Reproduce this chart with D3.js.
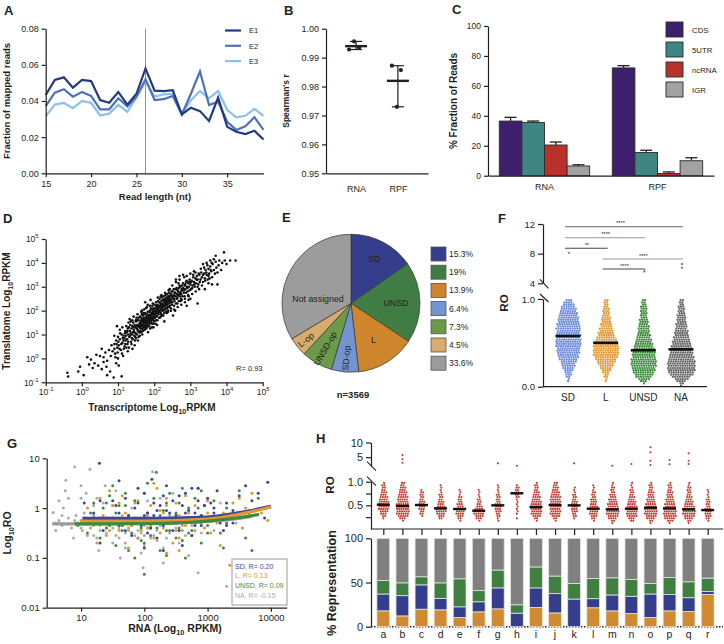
<!DOCTYPE html>
<html lang="en">
<head>
<meta charset="UTF-8">
<title>Ribosome profiling figure</title>
<script src="https://d3js.org/d3.v7.min.js"></script>
<style>
  body { margin: 0; background: #fff; }
  svg text { font-family: "Liberation Sans", Arial, Helvetica, sans-serif; fill: #231f20; }
</style>
</head>
<body>
<script>
// ---------- data ----------
// A: read length distributions
const readLengths = [15,16,17,18,19,20,21,22,23,24,25,26,27,28,29,30,31,32,33,34,35,36,37,38,39];
const lenE1 = [0.0433,0.0517,0.0531,0.0474,0.0517,0.0510,0.0405,0.0390,0.0450,0.0380,0.0440,0.0580,0.0457,0.0455,0.0460,0.0326,0.0363,0.0344,0.0290,0.0419,0.0257,0.0230,0.0217,0.0235,0.0187];
const lenE2 = [0.0372,0.0446,0.0465,0.0424,0.0450,0.0428,0.0354,0.0354,0.0415,0.0370,0.0424,0.0520,0.0405,0.0410,0.0428,0.0326,0.0440,0.0563,0.0378,0.0396,0.0285,0.0240,0.0260,0.0310,0.0240];
const lenE3 = [0.0315,0.0380,0.0390,0.0360,0.0400,0.0390,0.0320,0.0330,0.0380,0.0340,0.0420,0.0510,0.0425,0.0437,0.0440,0.0326,0.0405,0.0455,0.0415,0.0455,0.0350,0.0310,0.0318,0.0356,0.0318];
const aTicksY = [0, 0.02, 0.04, 0.06, 0.08];
const aTicksX = [15, 20, 25, 30, 35];

// B: replicate correlations
const bGroups = ["RNA", "RPF"];
const bRNA = [0.9956, 0.9928, 0.9935];
const bRPF = [0.9872, 0.9857, 0.9730];
const bTicks = [0.95, 0.96, 0.97, 0.98, 0.99, 1.00];

// C: fraction of reads
const cGroups = ["RNA", "RPF"];
const cParts = ["CDS", "5UTR", "ncRNA", "IGR"];
const cRNA = [36.5, 35.5, 20.5, 6.5];
const cRPF = [72, 15.5, 1.5, 10];
const cErrRNA = [2.5, 1.0, 2.0, 0.8];
const cErrRPF = [1.5, 1.5, 1.0, 2.0];
const cTicks = [0, 20, 40, 60, 80, 100];

// D: transcriptome vs translatome (log10 RPKM pairs)
const dPoints = [
[-0.38,-0.76],[-0.4,-0.6],[-0.1,-0.55],[-0.05,-0.35],[0.05,-0.7],[0.3,-0.4],[0.35,-0.2],[0.25,-0.05],[0.45,-0.3],[0.5,0.1],[0.55,-0.45],[0.6,-0.15],[0.65,0.25],[0.7,-0.1],[0.75,0.35],[0.78,-0.55],[0.7,-0.7],[0.6,0.05],[0.4,0.15],[0.2,-0.25],[0.55,0.4],[0.68,-0.35],[0.15,0.05],[0.8,0.1],
[0.85,0.3],[0.9,0.6],[0.92,0.2],[0.95,0.75],[0.98,0.45],[1.0,0.9],[1.02,0.55],[1.05,0.8],[1.08,0.35],[1.1,1.0],[1.12,0.65],[1.15,0.95],[1.18,0.5],[1.2,1.15],[0.88,-0.8],[0.95,-0.2],[1.1,-0.75],[1.0,0.0],[0.9,0.95],[1.05,1.2],[1.15,0.75],[0.82,0.55],[1.18,0.85],[1.12,1.3],[0.97,1.35],[1.2,0.6],
[1.22,0.95],[1.24,1.1],[1.25,0.8],[1.27,1.25],[1.28,1.0],[1.3,1.3],[1.31,0.9],[1.33,1.15],[1.34,1.4],[1.35,1.05],[1.37,1.25],[1.38,0.85],[1.4,1.35],[1.41,1.1],[1.42,1.5],[1.44,1.2],[1.45,0.95],[1.46,1.4],[1.48,1.3],[1.49,1.05],[1.5,1.55],[1.52,1.25],[1.53,1.4],[1.55,1.15],[1.56,1.6],[1.58,1.35],[1.59,1.45],[1.26,0.6],[1.36,0.7],[1.47,0.75],[1.57,0.9],[1.32,1.65],[1.43,1.75],[1.54,1.85],[1.29,1.5],[1.39,1.6],[1.51,1.7],[1.23,1.35],[1.46,0.55],[1.6,1.1],
[1.61,1.5],[1.62,1.35],[1.63,1.6],[1.64,1.45],[1.65,1.7],[1.66,1.25],[1.67,1.55],[1.68,1.4],[1.69,1.8],[1.7,1.6],[1.71,1.45],[1.72,1.7],[1.73,1.3],[1.74,1.55],[1.75,1.9],[1.76,1.65],[1.77,1.5],[1.78,1.75],[1.79,1.4],[1.8,1.85],[1.81,1.6],[1.82,1.7],[1.83,1.5],[1.84,1.95],[1.85,1.8],[1.86,1.65],[1.87,1.75],[1.88,1.55],[1.89,2.0],[1.9,1.85],[1.91,1.7],[1.92,1.9],[1.93,1.6],[1.94,2.05],[1.95,1.8],[1.96,1.95],[1.97,1.7],[1.98,2.1],[1.99,1.85],[2.0,1.75],[1.62,1.15],[1.7,1.2],[1.78,1.25],[1.86,1.35],[1.94,1.45],[1.64,1.95],[1.72,2.05],[1.8,2.15],[1.88,2.2],[1.96,2.3],[1.67,1.0],[1.83,1.1],[1.98,1.3],[1.75,2.35],[1.9,2.45],[1.66,1.85],[1.74,1.35],[1.82,1.95],[1.9,1.5],[1.98,1.6],
[2.01,2.0],[2.02,1.85],[2.03,2.1],[2.04,1.95],[2.05,2.2],[2.06,1.8],[2.07,2.05],[2.08,1.9],[2.09,2.25],[2.1,2.1],[2.11,1.95],[2.12,2.2],[2.13,2.0],[2.14,2.35],[2.15,2.15],[2.16,2.05],[2.17,2.3],[2.18,1.9],[2.19,2.25],[2.2,2.4],[2.21,2.1],[2.22,2.3],[2.23,2.0],[2.24,2.45],[2.25,2.25],[2.26,2.15],[2.27,2.4],[2.28,2.05],[2.29,2.5],[2.3,2.3],[2.31,2.2],[2.32,2.45],[2.33,2.1],[2.34,2.55],[2.35,2.35],[2.36,2.25],[2.37,2.5],[2.38,2.15],[2.39,2.6],[2.4,2.4],[2.05,1.6],[2.15,1.7],[2.25,1.8],[2.35,1.9],[2.1,2.55],[2.2,2.65],[2.3,2.75],[2.4,2.85],[2.08,1.4],[2.28,1.55],[2.18,2.6],[2.38,1.95],
[2.41,2.55],[2.42,2.3],[2.44,2.6],[2.45,2.45],[2.47,2.7],[2.48,2.35],[2.5,2.55],[2.51,2.8],[2.53,2.5],[2.54,2.65],[2.56,2.4],[2.57,2.75],[2.59,2.6],[2.6,2.9],[2.62,2.7],[2.63,2.5],[2.65,2.85],[2.66,2.65],[2.68,2.95],[2.69,2.75],[2.71,2.6],[2.72,3.0],[2.74,2.8],[2.75,2.7],[2.77,3.05],[2.78,2.85],[2.46,2.1],[2.55,2.2],[2.64,2.3],[2.73,2.4],[2.5,3.05],[2.6,3.2],[2.7,3.3],[2.43,2.9],[2.58,2.0],[2.67,3.15],[2.52,1.8],[2.76,2.45],
[2.8,2.95],[2.82,2.75],[2.84,3.05],[2.86,2.9],[2.88,3.2],[2.9,3.0],[2.92,2.8],[2.94,3.15],[2.96,3.0],[2.98,3.3],[3.0,3.1],[3.02,2.9],[3.04,3.25],[3.06,3.05],[3.08,3.4],[3.1,3.2],[3.12,3.0],[3.14,3.35],[3.16,3.15],[3.18,3.45],[3.2,3.3],[3.22,3.1],[3.25,3.5],[3.28,3.3],[2.85,2.5],[2.95,2.6],[3.05,2.7],[3.15,2.8],[2.9,3.45],[3.0,3.55],[3.1,3.65],[3.2,2.3],[2.83,3.4],[3.24,2.9],[3.3,3.6],
[3.32,3.4],[3.35,3.2],[3.38,3.55],[3.4,3.35],[3.42,3.7],[3.45,3.5],[3.48,3.3],[3.5,3.75],[3.52,3.55],[3.55,3.85],[3.58,3.65],[3.6,3.4],[3.62,3.95],[3.65,3.7],[3.68,3.55],[3.7,4.05],[3.72,3.8],[3.75,3.6],[3.78,3.9],[3.8,4.1],[3.35,3.95],[3.45,4.0],[3.55,4.1],[3.65,4.15],[3.4,2.9],[3.6,3.1],[3.85,3.7],[3.93,4.44],[3.95,4.1],[4.1,4.1],[4.25,4.1],[4.0,3.95],[3.88,4.0],[3.75,3.1],[3.5,3.15],[3.7,4.3],
[0.9,0.4],[0.93,0.05],[0.96,0.6],[0.99,0.25],[1.01,0.7],[1.04,0.4],[1.06,1.05],[1.09,0.6],[1.11,0.2],[1.13,0.85],[1.16,0.4],[1.19,1.05],[1.21,0.75],[1.23,0.45],[1.26,1.15],[1.28,0.7],[1.3,0.45],[1.33,0.95],[1.35,1.55],[1.37,0.6],[1.39,1.0],[1.41,0.8],[1.43,1.3],[1.45,1.1],[1.47,0.9],[1.49,1.6],[1.02,-0.3],[1.14,0.1],[1.27,0.3],[1.4,0.4],
[1.5,0.85],[1.51,1.35],[1.52,1.0],[1.53,1.6],[1.54,1.2],[1.55,0.75],[1.56,1.35],[1.57,1.7],[1.58,1.1],[1.59,1.3],[1.6,0.95],[1.61,1.75],[1.62,1.25],[1.63,1.45],[1.64,1.1],[1.65,1.55],[1.66,2.0],[1.67,1.35],[1.68,1.65],[1.69,1.15],[1.7,1.9],[1.71,1.3],[1.72,1.5],[1.73,1.85],[1.74,1.2],[1.75,1.6],[1.76,1.4],[1.77,2.1],[1.78,1.55],[1.79,1.3],[1.8,1.7],[1.81,1.45],[1.82,2.25],[1.83,1.8],[1.84,1.35],[1.85,1.6],[1.86,1.95],[1.87,1.45],[1.88,1.8],[1.89,1.25],[1.9,1.65],[1.91,2.1],[1.92,1.5],[1.93,1.8],[1.94,1.3],[1.95,2.2],[1.96,1.65],[1.97,1.9],[1.98,1.45],[1.99,2.0],
[2.0,1.55],[2.01,2.25],[2.02,1.7],[2.03,1.95],[2.04,1.45],[2.05,2.35],[2.06,1.95],[2.07,1.75],[2.08,2.15],[2.09,1.6],[2.1,2.0],[2.11,2.4],[2.12,1.85],[2.13,2.15],[2.14,1.7],[2.15,2.5],[2.16,1.95],[2.17,2.2],[2.18,1.75],[2.19,2.05],[2.2,1.85],[2.21,2.55],[2.22,2.15],[2.23,1.8],[2.24,2.25],[2.25,2.0],[2.26,2.6],[2.27,2.2],[2.28,1.9],[2.29,2.35],[2.3,2.05],[2.31,2.65],[2.32,2.25],[2.33,1.95],[2.34,2.4],[2.35,2.1],[2.36,2.7],[2.37,2.3],[2.38,2.0],[2.39,2.45],[2.4,2.15],[2.41,2.75],[2.42,2.5],[2.43,2.2],[2.44,2.35],[2.45,2.65],[2.46,2.0],[2.47,2.45],[2.48,2.8],[2.49,2.25],
[2.5,2.35],[2.52,2.6],[2.54,2.9],[2.56,2.5],[2.58,2.75],[2.6,2.3],[2.62,2.95],[2.64,2.55],[2.66,2.8],[2.68,2.4],[2.7,3.05],[2.72,2.7],[2.74,2.5],[2.76,2.9],[2.78,2.6],[2.8,3.15],[2.82,2.85],[2.84,2.6],[2.86,3.1],[2.88,2.75],[2.9,3.25],[2.92,2.95],[2.94,2.65],[2.96,3.2],[2.98,2.85],[2.55,2.05],[2.65,2.15],[2.75,2.25],[2.85,2.35],[2.95,2.45],[2.6,3.3],[2.7,3.45],[2.8,3.5],[2.9,2.2],[3.0,2.5],
[3.02,3.2],[3.05,2.95],[3.08,3.5],[3.11,3.1],[3.14,3.6],[3.17,3.3],[3.2,3.0],[3.23,3.55],[3.26,3.2],[3.29,3.75],[3.32,3.05],[3.35,3.5],[3.38,3.8],[3.41,3.25],[3.44,3.6],[3.47,3.9],[3.5,3.45],[3.53,3.35],[3.56,3.7],[3.59,4.0]
];
const dTicks = [-1, 0, 1, 2, 3, 4, 5];

// E: leader classes
const pieLabels = ["SD", "UNSD", "L", "SD-op", "UNSD-op", "L-op", "Not assigned"];
const pieValues = [15.3, 19, 13.9, 6.4, 7.3, 4.5, 33.6];
const pieLegend = ["15.3%", "19%", "13.9%", "6.4%", "7.3%", "4.5%", "33.6%"];

// F: RO per class, counts of genes per 0.025 RO bin (0..1)
const fCats = ["SD", "L", "UNSD", "NA"];
const fSD   = [0,0,1,1,2,3,3,4,5,6,6,7,8,9,9,10,10,10,11,11,11,11,10,11,10,10,11,10,10,9,9,9,8,8,7,7,6,5,4,3];
const fL    = [0,0,1,1,2,2,3,4,5,6,7,8,9,10,11,11,11,11,11,10,10,9,8,7,7,6,6,5,5,4,4,4,3,3,3,3,2,2,2,2];
const fUNSD = [0,1,3,5,7,8,9,10,10,11,11,11,11,10,10,10,9,9,8,8,7,7,6,6,5,5,5,5,4,4,4,3,3,3,3,3,3,2,2,2];
const fNA   = [1,2,4,6,8,10,11,12,12,12,12,12,11,11,10,10,9,9,9,8,8,7,7,6,6,6,5,5,5,4,4,4,4,3,3,3,3,2,2,2];
const fMeans = [0.578, 0.50, 0.415, 0.426];
const fOutliers = [[8.1], [], [5.6], [6.6, 6.1]];
const fSig = [["SD", "NA", "****"], ["SD", "UNSD", "****"], ["SD", "L", "**"], ["L", "NA", "****"], ["L", "UNSD", "****"]];

// G: RO vs RNA (log10 RPKM, log10 RO)
const gNA = [[0.56,-0.09],[0.6,-0.3],[0.65,-0.25],[0.7,-0.35],[0.76,0.56],[0.8,-0.2],[0.85,-0.4],[0.9,0.83],[0.92,-0.15],[0.95,-0.3],[1.0,0.2],[1.02,-0.45],[1.05,-0.1],[1.1,-0.55],[1.14,0.78],[1.15,-0.25],[1.2,0.05],[1.25,-0.6],[1.3,-0.35],[1.35,0.1],[1.4,-0.5],[1.45,-0.2],[1.5,-0.7],[1.55,0.35],[1.6,-0.4],[1.65,-0.15],[1.7,-0.8],[1.75,-0.3],[1.8,0.0],[1.85,-0.55],[1.9,-0.25],[1.95,-0.9],[2.0,-0.35],[2.05,0.15],[2.1,-0.6],[2.13,0.73],[2.15,-0.2],[2.2,-0.45],[2.25,0.2],[2.3,-1.1],[2.35,-0.3],[2.4,-0.5],[2.5,-0.15],[2.55,-0.7],[2.6,-0.35],[2.7,-0.95],[2.8,-0.25],[2.9,-0.5],[3.0,-0.2],[3.1,-0.45],[3.2,0.1],[3.3,-1.57],[3.45,-0.3],[0.72,0.0],[1.08,0.3],[1.28,-0.85],[1.62,-1.0],[1.98,-1.2],[2.45,0.3],[2.85,-1.3],[0.88,-0.6],[1.38,0.45],[1.3,-0.45],[1.5,-0.4],[1.7,-0.5],[1.9,-0.45],[2.1,-0.3],[1.4,-0.3],[1.6,-0.6],[1.8,-0.35],[2.2,-0.65],[2.4,-0.2],[1.2,-0.35],[2.0,-0.55],
  [0.6,-0.45],[0.7,-0.15],[0.8,0.2],[0.9,-0.25],[1.0,-0.4],[1.1,-0.2],[1.2,-0.55],[1.3,-0.25],[1.4,-0.4],[1.5,-0.3],[1.55,-0.55],[1.65,-0.35],[1.75,-0.45],[1.85,-0.3],[1.95,-0.5],[2.05,-0.4],[2.15,-0.55],[2.25,-0.35],[2.35,-0.6],[2.5,-0.4],[2.65,-0.55],[2.75,-0.35],[0.75,0.35],[1.0,0.45],[1.25,0.2],[1.5,0.05],[1.7,-0.7],[2.0,-0.75],[2.3,-0.8],[0.65,0.15]];
const gUNSD = [[0.95,-0.35],[1.05,-0.2],[1.1,-0.5],[1.2,0.1],[1.25,-0.3],[1.3,-0.6],[1.35,0.0],[1.4,-0.4],[1.45,0.25],[1.5,-0.25],[1.55,-0.75],[1.6,0.05],[1.65,-0.35],[1.7,0.3],[1.75,-0.15],[1.8,-0.5],[1.85,0.15],[1.9,-0.3],[1.95,-0.65],[2.0,-1.33],[2.05,-0.1],[2.1,-0.4],[2.15,0.2],[2.19,0.72],[2.2,-0.25],[2.25,-0.85],[2.3,-0.05],[2.35,-0.45],[2.4,0.3],[2.45,-0.2],[2.5,-0.6],[2.55,0.1],[2.6,-0.3],[2.65,-1.0],[2.7,0.0],[2.75,-0.45],[2.8,0.2],[2.85,-0.25],[2.9,-0.7],[2.95,0.05],[3.0,-0.35],[3.1,0.15],[3.2,-0.5],[3.3,0.0],[3.4,-0.2],[3.5,0.35],[3.6,-0.6],[3.7,-0.85],[3.8,0.2],[1.5,0.45],[1.85,-1.0],[2.05,0.5],[2.6,0.4],[3.25,-0.8],[1.15,-0.1],[2.35,-0.95],[2.9,0.35],[1.75,-0.85],
  [1.3,-0.2],[1.45,-0.35],[1.55,-0.1],[1.65,-0.45],[1.75,-0.3],[1.85,-0.2],[1.95,-0.4],[2.05,-0.25],[2.1,-0.55],[2.2,-0.4],[2.25,-0.15],[2.3,-0.3],[2.4,-0.45],[2.45,-0.3],[2.5,-0.1],[2.55,-0.4],[2.65,-0.2],[2.7,-0.5],[2.8,-0.3],[2.9,-0.15],[3.0,-0.5],[3.1,-0.25],[1.4,0.1],[1.7,0.05],[2.0,-0.7],[2.35,0.1],[2.6,-0.65],[2.85,0.0],[3.3,-0.3],[3.5,-0.1],[1.9,-0.6],[2.75,-0.25]];
const gL = [[1.0,-0.25],[1.1,0.0],[1.15,-0.4],[1.2,-0.15],[1.3,0.2],[1.35,-0.3],[1.4,-0.55],[1.5,0.05],[1.55,-0.2],[1.6,-0.45],[1.65,0.25],[1.7,-0.1],[1.8,-0.35],[1.85,0.1],[1.9,-0.6],[1.95,-0.2],[2.0,0.3],[2.05,-0.4],[2.1,0.05],[2.15,-0.25],[2.2,0.4],[2.25,-0.5],[2.3,-0.1],[2.35,0.2],[2.4,-0.3],[2.45,-0.7],[2.5,0.1],[2.55,-0.15],[2.6,-0.45],[2.65,0.25],[2.7,-0.2],[2.75,-0.55],[2.8,0.05],[2.9,-0.3],[3.0,0.15],[3.1,-0.25],[3.2,-0.75],[3.25,-0.1],[3.35,-1.15],[3.4,0.1],[3.55,-0.4],[3.7,0.3],[3.85,-0.1],[3.95,-0.25],[1.75,-0.8],[2.15,0.5],[2.55,-0.85],[1.45,0.35],[2.85,0.4],[3.05,-0.5],[1.25,-0.7],[2.35,-0.9],[3.6,0.0],
  [1.35,-0.15],[1.5,-0.3],[1.65,-0.2],[1.75,-0.4],[1.85,-0.25],[1.95,-0.45],[2.05,-0.15],[2.1,-0.35],[2.2,-0.25],[2.25,-0.05],[2.3,-0.4],[2.4,-0.15],[2.45,-0.3],[2.5,-0.45],[2.6,-0.2],[2.65,-0.35],[2.7,-0.1],[2.75,-0.3],[2.85,-0.2],[2.95,-0.4],[3.0,-0.1],[3.15,-0.3],[1.6,0.1],[1.9,0.15],[2.15,-0.6],[2.35,0.05],[2.55,-0.6],[2.8,-0.45],[1.45,-0.45],[2.0,-0.3],[3.3,-0.2],[3.5,0.2]];
const gSD = [[1.05,0.1],[1.1,-0.3],[1.2,-0.1],[1.29,0.9],[1.3,0.15],[1.35,-0.45],[1.5,-0.2],[1.55,0.05],[1.6,-0.35],[1.7,0.2],[1.75,-0.15],[1.8,-0.55],[1.85,0.0],[1.9,-0.25],[2.0,0.3],[2.05,-0.1],[2.1,-0.4],[2.12,0.58],[2.15,0.1],[2.2,-0.6],[2.25,-0.2],[2.3,0.25],[2.35,-0.05],[2.4,-0.3],[2.45,0.15],[2.5,-0.15],[2.55,-0.45],[2.6,0.05],[2.65,0.3],[2.7,-0.25],[2.75,0.4],[2.8,-0.1],[2.85,0.15],[2.9,-0.35],[2.95,0.05],[3.0,0.2],[3.05,-0.2],[3.1,0.0],[3.15,0.35],[3.2,-0.15],[3.3,0.1],[3.4,-0.3],[3.5,0.25],[3.6,0.45],[3.65,-0.1],[3.7,0.15],[3.8,0.3],[3.9,-0.2],[3.95,0.52],[2.0,-0.8],[1.6,0.55],[2.85,0.4],[1.3,-0.7],[2.6,-0.75],[1.9,0.4],[2.3,-0.85],[3.3,-0.35],[2.75,-0.55],
  [1.4,-0.2],[1.6,-0.1],[1.8,-0.3],[2.0,-0.15],[2.1,-0.25],[2.2,-0.05],[2.3,-0.35],[2.4,-0.1],[2.5,-0.3],[2.6,-0.2],[2.7,-0.05],[2.8,-0.35],[2.9,-0.15],[3.0,-0.25],[3.1,-0.1],[3.2,-0.3],[3.4,-0.05],[3.5,-0.2],[1.5,0.15],[1.7,-0.45],[1.9,0.1],[2.05,-0.5],[2.25,0.05],[2.45,-0.45],[2.65,-0.1],[2.85,-0.2],[3.05,0.1],[3.25,-0.45],[2.35,0.45],[2.55,0.25],[1.95,-0.35],[2.15,-0.15]];
// fitted trends (RPKM, RO)
const gFitNA = [[3.5,0.48],[30,0.49],[300,0.51],[2000,0.58],[5000,0.68]];
const gFitUNSD = [[8,0.48],[100,0.49],[1000,0.55],[3000,0.64],[6500,0.75]];
const gFitL = [[10,0.55],[100,0.55],[1000,0.6],[3000,0.74],[10000,1.05]];
const gFitSD = [[10.5,0.62],[100,0.62],[1000,0.66],[3000,0.8],[10000,1.08]];
const gLegend = ["SD, R= 0.20", "L, R= 0.13", "UNSD, R= 0.09", "NA, R= -0.15"];

// H: RO per leader subgroup, counts per 0.05 RO bin (0..1)
const hCats = ["a","b","c","d","e","f","g","h","i","j","k","l","m","n","o","p","q","r"];
const hCounts = [
  [0,0,0,0,1,2,3,4,5,5,5,5,4,4,3,3,2,2,2,1],
  [0,0,0,1,3,5,6,6,6,6,6,5,5,5,4,4,3,3,2,2],
  [0,0,0,0,0,1,2,2,3,3,3,3,2,2,2,2,1,0,0,0],
  [0,0,0,0,2,3,4,5,5,4,3,3,2,2,2,1,1,1,1,0],
  [0,0,0,1,2,3,4,4,4,3,3,2,2,2,1,1,1,0,0,0],
  [0,0,0,1,3,4,5,5,4,3,2,2,2,1,1,1,1,0,0,0],
  [0,0,0,1,1,2,2,3,3,3,3,2,2,2,2,1,1,1,1,0],
  [0,0,0,0,1,0,1,1,1,1,1,1,1,2,2,2,2,2,1,0],
  [0,0,0,1,2,4,5,5,5,5,5,5,4,4,3,3,2,2,2,1],
  [0,0,0,1,2,4,5,5,5,5,5,5,5,5,4,4,3,3,2,2],
  [0,0,0,0,1,2,2,3,3,3,3,3,2,2,2,1,1,1,0,0],
  [0,0,0,1,2,3,4,4,4,4,3,3,3,2,2,2,1,1,1,0],
  [0,0,1,2,4,5,6,6,6,5,5,4,4,3,3,2,2,2,1,1],
  [0,0,0,2,3,5,5,5,5,5,4,4,3,3,2,2,2,1,1,1],
  [0,0,1,2,4,5,6,6,6,5,5,4,4,3,3,3,2,2,2,1],
  [0,0,1,3,5,6,6,6,6,5,5,4,4,3,3,3,2,2,2,1],
  [0,0,1,2,4,5,6,6,6,5,4,4,3,3,2,2,2,2,1,1],
  [0,0,0,1,2,3,3,3,3,2,2,2,2,1,1,1,1,0,0,0]
];
const hMeans = [0.514,0.486,0.507,0.437,0.423,0.387,0.50,0.755,0.465,0.507,0.50,0.43,0.415,0.43,0.45,0.437,0.415,0.40];
const hOutliers = {b: [5.75, 4.3, 3.1], g: [2.9], h: [2.1], k: [2.9], m: [2.1], n: [2.7], o: [8.4, 6.7, 3.8, 2.35], p: [4.05, 2.6], q: [6.3, 3.8, 2.7]};
const hL    = [17.9,12.2,19.8,19.1,10.3,16.8,20.2,0,21.8,15.6,0,21.4,17.9,14.9,10.3,17.9,17.2,36.6];
const hSD   = [19.1,22.9,27.5,12.9,12.2,11.4,23.7,15.3,22.1,21.8,31.3,10.3,18.0,19.5,26.7,18.4,15.6,3.1];
const hUNSD = [15.3,14.5,9.2,17.6,31.7,12.6,20.2,9.5,23.7,19.9,17.6,22.9,19.4,19.0,11.9,19.4,18.0,15.3];
const hNA   = [47.7,50.4,43.5,50.4,45.8,59.2,35.9,75.2,32.4,42.7,51.1,45.4,44.7,46.6,51.1,44.3,49.2,45.0];

// ---------- setup ----------
const INK = "#231f20";
const svg = d3.select("body").append("svg").attr("width", 724).attr("height", 644);

function txt(x, y, s, o = {}) {
  const t = svg.append("text").attr("x", x).attr("y", y).text(s)
    .attr("font-size", o.size || 9)
    .attr("font-weight", o.bold ? "bold" : null)
    .attr("text-anchor", o.anchor || "start");
  if (o.fill) t.style("fill", o.fill);
  if (o.rotate != null) t.attr("transform", `rotate(${o.rotate},${x},${y})`);
  return t;
}

function styleAxis(g, fs) {
  g.attr("font-family", null).attr("font-size", fs);
  g.select(".domain").attr("stroke", INK).attr("stroke-width", 1.2);
  g.selectAll(".tick line").attr("stroke", INK).attr("stroke-width", 1.2);
  g.selectAll(".tick text").style("fill", INK);
  return g;
}

// label with a subscript "10"
function subLabel(x, y, pre, post, size, rotate) {
  const t = svg.append("text").attr("x", x).attr("y", y).attr("font-size", size)
    .attr("font-weight", "bold").attr("text-anchor", "middle");
  if (rotate != null) t.attr("transform", `rotate(${rotate},${x},${y})`);
  t.append("tspan").text(pre);
  t.append("tspan").attr("dy", 3).attr("font-size", size * 0.7).text("10");
  t.append("tspan").attr("dy", -3).text(post);
}

// rows of dots, one row per bin (beeswarm style)
function swarm(g, counts, binW, cx, y, color, step, r) {
  const dots = [];
  counts.forEach((n, i) => {
    const shift = i % 2 ? step / 3 : 0;
    for (let j = 0; j < n; j++) dots.push({x: cx + (j - (n - 1) / 2) * step + shift, v: (i + 0.5) * binW});
  });
  g.selectAll(null).data(dots).enter().append("circle")
    .attr("cx", d => d.x).attr("cy", d => y(d.v)).attr("r", r).attr("fill", color);
}

// panel letters
[["A",4,15],["B",284,15],["C",452,14],["D",3,223],["E",282,222],["F",498,223],["G",7,448],["H",316,443]]
  .forEach(([s, x, y]) => txt(x, y, s, {size: 13, bold: true}));

// ---------- A ----------
const xA = d3.scaleLinear().domain([15, 39]).range([45.7, 263.5]);
const yA = d3.scaleLinear().domain([0, 0.08]).range([173.3, 28.7]);
svg.append("line").attr("x1", xA(26)).attr("x2", xA(26)).attr("y1", yA(0.08)).attr("y2", yA(0))
  .attr("stroke", "#777").attr("stroke-width", 0.8);
const aSeries = [["E1", lenE1, "#243a80"], ["E2", lenE2, "#4f71bd"], ["E3", lenE3, "#8cc0f0"]];
const lineA = d3.line().x((d, i) => xA(readLengths[i])).y(d => yA(d));
aSeries.slice().reverse().forEach(([k, vals, c]) => {
  svg.append("path").datum(vals).attr("d", lineA).attr("fill", "none").attr("stroke", c).attr("stroke-width", 2.2);
});
styleAxis(svg.append("g").attr("transform", "translate(45.7,0)")
  .call(d3.axisLeft(yA).tickValues(aTicksY).tickFormat(d3.format(".2f")).tickSize(4).tickSizeOuter(0)), 9);
styleAxis(svg.append("g").attr("transform", "translate(0,173.3)")
  .call(d3.axisBottom(xA).tickValues(aTicksX).tickSize(4).tickSizeOuter(0)), 9);
aSeries.forEach(([k, vals, c], i) => {
  const y = 30.5 + i * 15.3;
  svg.append("line").attr("x1", 225).attr("x2", 241).attr("y1", y).attr("y2", y).attr("stroke", c).attr("stroke-width", 2.2);
  txt(249, y + 2.8, k, {size: 7.5});
});
txt(10, 101, "Fraction of mapped reads", {size: 9.5, bold: true, anchor: "middle", rotate: -90});
txt(155, 200, "Read length (nt)", {size: 9.5, bold: true, anchor: "middle"});

// ---------- B ----------
const yB = d3.scaleLinear().domain([0.95, 1.0]).range([173.3, 28.7]);
const xB = d3.scalePoint().domain(bGroups).range([326, 428]).padding(0.72);
const bJitter = [[-2, -7, 3], [-6, 3, -1]];
[bRNA, bRPF].forEach((vals, gi) => {
  const cx = xB(bGroups[gi]);
  const [lo, hi] = d3.extent(vals);
  svg.append("line").attr("x1", cx).attr("x2", cx).attr("y1", yB(lo)).attr("y2", yB(hi)).attr("stroke", INK).attr("stroke-width", 1.2);
  [lo, hi].forEach(v => svg.append("line").attr("x1", cx - 6).attr("x2", cx + 6).attr("y1", yB(v)).attr("y2", yB(v)).attr("stroke", INK).attr("stroke-width", 1.2));
  svg.append("line").attr("x1", cx - 11).attr("x2", cx + 11).attr("y1", yB(d3.mean(vals))).attr("y2", yB(d3.mean(vals)))
    .attr("stroke", INK).attr("stroke-width", 2.4);
  svg.selectAll(null).data(vals).enter().append("circle")
    .attr("cx", (d, i) => cx + bJitter[gi][i]).attr("cy", d => yB(d)).attr("r", 2.1).attr("fill", INK);
});
styleAxis(svg.append("g").attr("transform", "translate(326,0)")
  .call(d3.axisLeft(yB).tickValues(bTicks).tickFormat(d3.format(".2f")).tickSize(4).tickSizeOuter(0)), 9);
styleAxis(svg.append("g").attr("transform", "translate(0,173.3)")
  .call(d3.axisBottom(xB).tickSize(0).tickPadding(12)), 9);
txt(289, 101, "Spearman's r", {size: 8.5, bold: true, anchor: "middle", rotate: -90});

// ---------- C ----------
const yC = d3.scaleLinear().domain([0, 100]).range([175.7, 26]);
const xC = d3.scaleBand().domain(cGroups).range([488, 714]).paddingInner(0.2).paddingOuter(0.1);
const xCs = d3.scaleBand().domain(cParts).range([0, xC.bandwidth()]);
const cColors = ["#3d1f6e", "#3f8584", "#b8322a", "#a2a2a2"];
const cRows = [];
[[cRNA, cErrRNA], [cRPF, cErrRPF]].forEach(([vals, errs], gi) =>
  vals.forEach((v, i) => cRows.push({g: cGroups[gi], k: cParts[i], v, e: errs[i], c: cColors[i]})));
const cBars = svg.append("g");
cBars.selectAll("line").data(cRows).enter().append("line")
  .attr("x1", d => xC(d.g) + xCs(d.k) + xCs.bandwidth() / 2).attr("x2", d => xC(d.g) + xCs(d.k) + xCs.bandwidth() / 2)
  .attr("y1", d => yC(d.v)).attr("y2", d => yC(d.v + d.e)).attr("stroke", INK).attr("stroke-width", 1.3);
cBars.selectAll(".cap").data(cRows).enter().append("line")
  .attr("x1", d => xC(d.g) + xCs(d.k) + xCs.bandwidth() / 2 - 6).attr("x2", d => xC(d.g) + xCs(d.k) + xCs.bandwidth() / 2 + 6)
  .attr("y1", d => yC(d.v + d.e)).attr("y2", d => yC(d.v + d.e)).attr("stroke", INK).attr("stroke-width", 1.3);
cBars.selectAll("rect").data(cRows).enter().append("rect")
  .attr("x", d => xC(d.g) + xCs(d.k)).attr("y", d => yC(d.v))
  .attr("width", xCs.bandwidth()).attr("height", d => yC(0) - yC(d.v))
  .attr("fill", d => d.c).attr("stroke", "#2a2a2a").attr("stroke-width", 0.9);
styleAxis(svg.append("g").attr("transform", "translate(488,0)")
  .call(d3.axisLeft(yC).tickValues(cTicks).tickSize(4).tickSizeOuter(0)), 8.5);
styleAxis(svg.append("g").attr("transform", "translate(0,175.7)")
  .call(d3.axisBottom(xC).tickSize(0).tickPadding(8)), 9);
cParts.forEach((k, i) => {
  svg.append("rect").attr("x", 666).attr("y", 22 + i * 20).attr("width", 17).attr("height", 15)
    .attr("fill", cColors[i]).attr("stroke", "#2a2a2a").attr("stroke-width", 0.9);
  txt(692, 32.5 + i * 20, k, {size: 7.8});
});
txt(457, 101, "% Fraction of Reads", {size: 10, bold: true, anchor: "middle", rotate: -90});

// ---------- D ----------
const xD = d3.scaleLinear().domain([-1, 5]).range([45.7, 262.7]);
const yD = d3.scaleLinear().domain([-1, 5]).range([382.3, 239]);
svg.append("g").selectAll("circle").data(dPoints).enter().append("circle")
  .attr("cx", d => xD(d[0])).attr("cy", d => yD(d[1])).attr("r", 1.3).attr("fill", "#111");
function powTicks(g) {
  g.selectAll(".tick text").each(function(d) {
    const t = d3.select(this).text("10");
    t.append("tspan").attr("dy", -4).attr("font-size", 6).text(d);
  });
}
styleAxis(svg.append("g").attr("transform", "translate(45.7,0)")
  .call(d3.axisLeft(yD).tickValues(dTicks).tickSize(4).tickSizeOuter(0)).call(powTicks), 8.5);
styleAxis(svg.append("g").attr("transform", "translate(0,382.3)")
  .call(d3.axisBottom(xD).tickValues(dTicks).tickSize(4).tickSizeOuter(0)).call(powTicks), 8.5);
txt(236, 371, "R= 0.93", {size: 7.5});
subLabel(10, 311, "Translatome Log", "RPKM", 10, -90);
subLabel(152, 411, "Transcriptome Log", "RPKM", 10);

// ---------- E ----------
const pieColors = ["#353e8d", "#3f7d44", "#cf852b", "#7393d1", "#6b9a4b", "#d9ab6c", "#9c9c9c"];
const pieLayout = [{r: 50}, {r: 45}, {r: 43}, {r: 55, rot: true}, {r: 52, rot: true}, {r: 58, rot: true}, {dx: -33, dy: -4}];
const pieArcs = d3.pie().sort(null).value(d => d)(pieValues);
const arcE = d3.arc().innerRadius(0).outerRadius(69);
const gE = svg.append("g").attr("transform", "translate(351,303.3)");
gE.selectAll("path").data(pieArcs).enter().append("path")
  .attr("d", arcE).attr("fill", (d, i) => pieColors[i]).attr("stroke", "#333").attr("stroke-width", 0.7);
pieArcs.forEach((a, i) => {
  const L = pieLayout[i];
  const mid = (a.startAngle + a.endAngle) / 2;
  let x, y;
  if (L.r) { x = Math.sin(mid) * L.r; y = -Math.cos(mid) * L.r; } else { x = L.dx; y = L.dy; }
  const rot = L.rot ? mid * 180 / Math.PI - 270 : 0;
  gE.append("text").attr("x", x).attr("y", y).attr("dy", "0.35em").attr("text-anchor", "middle")
    .attr("font-size", 8.8).attr("transform", `rotate(${rot},${x},${y})`).text(pieLabels[i]);
});
pieLegend.forEach((s, i) => {
  const y = 247 + i * 18.2;
  svg.append("rect").attr("x", 431).attr("y", y).attr("width", 15).attr("height", 14)
    .attr("fill", pieColors[i]).attr("stroke", "#555").attr("stroke-width", 0.8);
  txt(449, y + 10, s, {size: 8.5});
});
txt(353, 398, "n=3569", {size: 9.5, bold: true, anchor: "middle"});

// ---------- F ----------
const yF = d3.scaleLinear().domain([0, 1]).range([386.7, 299]);
const yFu = d3.scaleLinear().domain([4, 12]).range([283.3, 224]);
const xF = d3.scalePoint().domain(fCats).range([568, 681]);
const fColors = ["#6a8bd6", "#e1972f", "#3b8a3b", "#666666"];
[fSD, fL, fUNSD, fNA].forEach((counts, i) => {
  const g = svg.append("g");
  swarm(g, counts, 0.025, xF(fCats[i]), yF, fColors[i], 2.35, 1.15);
  g.selectAll(".o").data(fOutliers[i]).enter().append("circle")
    .attr("cx", xF(fCats[i]) + 1).attr("cy", d => yFu(d)).attr("r", 1.1).attr("fill", fColors[i]);
  svg.append("line").attr("x1", xF(fCats[i]) - 12.5).attr("x2", xF(fCats[i]) + 12.5)
    .attr("y1", yF(fMeans[i])).attr("y2", yF(fMeans[i])).attr("stroke", "#111").attr("stroke-width", 2.6);
});
styleAxis(svg.append("g").attr("transform", "translate(543,0)")
  .call(d3.axisLeft(yF).tickValues([0, 1]).tickSize(5).tickSizeOuter(0)), 9.5);
styleAxis(svg.append("g").attr("transform", "translate(543,0)")
  .call(d3.axisLeft(yFu).tickValues([4, 8, 12]).tickSize(5).tickSizeOuter(0)), 9.5);
[[279.3, 288.3], [294, 302]].forEach(([a, b]) =>
  svg.append("line").attr("x1", 540).attr("x2", 548.5).attr("y1", a).attr("y2", b).attr("stroke", INK).attr("stroke-width", 1.1));
svg.append("line").attr("x1", 543).attr("x2", 707).attr("y1", 386.7).attr("y2", 386.7).attr("stroke", INK).attr("stroke-width", 1.2);
fCats.forEach(c => txt(xF(c), 401, c, {size: 10, anchor: "middle"}));
const fSigY = [226.7, 237.7, 248.3, 259, 269];
const fSigC = ["#666", "#9a9a9a", "#444", "#9a9a9a", "#444"];
fSig.forEach(([a, b, s], i) => {
  svg.append("line").attr("x1", xF(a) - 3).attr("x2", xF(b) + 2).attr("y1", fSigY[i]).attr("y2", fSigY[i])
    .attr("stroke", fSigC[i]).attr("stroke-width", 1.1);
  txt((xF(a) + xF(b)) / 2 + (i === 0 ? -4 : 0), fSigY[i] - 1.5, s, {size: 5.5, anchor: "middle"});
});
txt(508, 303, "RO", {size: 11.5, bold: true, anchor: "middle", rotate: -90});

// ---------- G ----------
const xG = d3.scaleLog().domain([Math.pow(10, 0.457), Math.pow(10, 4.25)]).range([46.7, 286.7]);
const yG = d3.scaleLog().domain([0.01, 10]).range([607.7, 458.3]);
const gSets = [[gNA, "#ababab"], [gUNSD, "#3e8b3e"], [gL, "#e3962f"], [gSD, "#3b45a0"]];
gSets.forEach(([pts, c]) => {
  svg.append("g").selectAll("circle").data(pts).enter().append("circle")
    .attr("cx", d => xG(Math.pow(10, d[0]))).attr("cy", d => yG(Math.pow(10, d[1]))).attr("r", 1.5).attr("fill", c);
});
const lineG = d3.line().x(d => xG(d[0])).y(d => yG(d[1])).curve(d3.curveMonotoneX);
[[gFitNA, "#9a9a9a"], [gFitSD, "#3b45a0"], [gFitL, "#e3962f"], [gFitUNSD, "#3e8b3e"]].forEach(([pts, c]) => {
  svg.append("path").datum(pts).attr("d", lineG).attr("fill", "none").attr("stroke", c).attr("stroke-width", 3.2);
});
styleAxis(svg.append("g").attr("transform", "translate(46.7,0)")
  .call(d3.axisLeft(yG).tickValues([0.01, 0.1, 1, 10]).tickFormat(d => d).tickSize(4).tickSizeOuter(0)), 9.5);
styleAxis(svg.append("g").attr("transform", "translate(0,607.7)")
  .call(d3.axisBottom(xG).tickValues([10, 100, 1000, 10000]).tickFormat(d => d).tickSize(4).tickSizeOuter(0)), 9.5);
svg.append("rect").attr("x", 232).attr("y", 559).attr("width", 55).attr("height", 46)
  .attr("fill", "#fff").attr("stroke", "#9a9a9a").attr("stroke-width", 1);
const gLegendC = ["#3b45a0", "#e3962f", "#3e8b3e", "#ababab"];
gLegend.forEach((s, i) => txt(235, 568.5 + i * 9.7, s, {size: 7, fill: gLegendC[i]}));
subLabel(175, 632, "RNA (Log", " RPKM)", 10.5);
subLabel(11, 533, "Log", "RO", 10.5, -90);

// ---------- H ----------
const xH = d3.scalePoint().domain(hCats).range([383.3, 707.7]);
const yH = d3.scaleLinear().domain([0, 1]).range([529, 481.7]);
const yHu = d3.scaleLinear().domain([2, 10]).range([466, 442.5]);
const hRed = "#c0392b";
hCats.forEach((c, i) => {
  const g = svg.append("g");
  swarm(g, hCounts[i], 0.05, xH(c), yH, hRed, 2.2, 1.05);
  g.selectAll(".o").data(hOutliers[c] || []).enter().append("circle")
    .attr("cx", xH(c)).attr("cy", d => yHu(d)).attr("r", 1.05).attr("fill", hRed);
  svg.append("line").attr("x1", xH(c) - 6.5).attr("x2", xH(c) + 6.5).attr("y1", yH(hMeans[i])).attr("y2", yH(hMeans[i]))
    .attr("stroke", "#111").attr("stroke-width", 2.4);
});
styleAxis(svg.append("g").attr("transform", "translate(371,0)")
  .call(d3.axisLeft(yH).tickValues([0.25, 0.5, 0.75, 1]).tickFormat(d => (d === 0.5 || d === 1) ? d3.format(".1f")(d) : "")
    .tickSize(5).tickSizeOuter(0)), 11);
styleAxis(svg.append("g").attr("transform", "translate(371,0)")
  .call(d3.axisLeft(yHu).tickValues([5, 10]).tickSize(5).tickSizeOuter(0)), 11);
[[461.7, 470.7], [476.7, 485.7]].forEach(([a, b]) =>
  svg.append("line").attr("x1", 367).attr("x2", 376).attr("y1", a).attr("y2", b).attr("stroke", INK).attr("stroke-width", 1.1));
styleAxis(svg.append("g").attr("transform", "translate(0,529)")
  .call(d3.axisBottom(xH).tickSize(6).tickFormat("")), 10);
svg.select("g:last-child .domain").attr("d", "M371,0H723");
txt(334, 485, "RO", {size: 11.5, bold: true, anchor: "middle", rotate: -90});

// stacked representation bars
const yS = d3.scaleLinear().domain([0, 100]).range([626.7, 538.3]);
const hRows = hCats.map((c, i) => ({cat: c, L: hL[i], SD: hSD[i], UNSD: hUNSD[i], NA: hNA[i]}));
const hKeys = ["L", "SD", "UNSD", "NA"];
const hColors = {L: "#d08a31", SD: "#353e8d", UNSD: "#3f7f3f", NA: "#808080"};
svg.append("line").attr("x1", 371).attr("x2", 723).attr("y1", 626.7).attr("y2", 626.7)
  .attr("stroke", INK).attr("stroke-width", 1.6).attr("stroke-dasharray", "1.5,1.5");
const stackH = d3.stack().keys(hKeys)(hRows);
svg.append("g").selectAll("g").data(stackH).enter().append("g").attr("fill", d => hColors[d.key])
  .selectAll("rect").data(d => d).enter().append("rect")
  .attr("x", d => xH(d.data.cat) - 6.4).attr("width", 12.8)
  .attr("y", d => yS(d[1])).attr("height", d => yS(d[0]) - yS(d[1]))
  .attr("stroke", "#e4e4e4").attr("stroke-width", 0.8);
styleAxis(svg.append("g").attr("transform", "translate(371,0)")
  .call(d3.axisLeft(yS).tickValues([0, 50, 100]).tickSize(5).tickSizeOuter(0)), 11);
hCats.forEach(c => txt(xH(c), 638, c, {size: 10.5, anchor: "middle"}));
txt(336, 583, "% Representation", {size: 12.5, bold: true, anchor: "middle", rotate: -90});
</script>
</body>
</html>
